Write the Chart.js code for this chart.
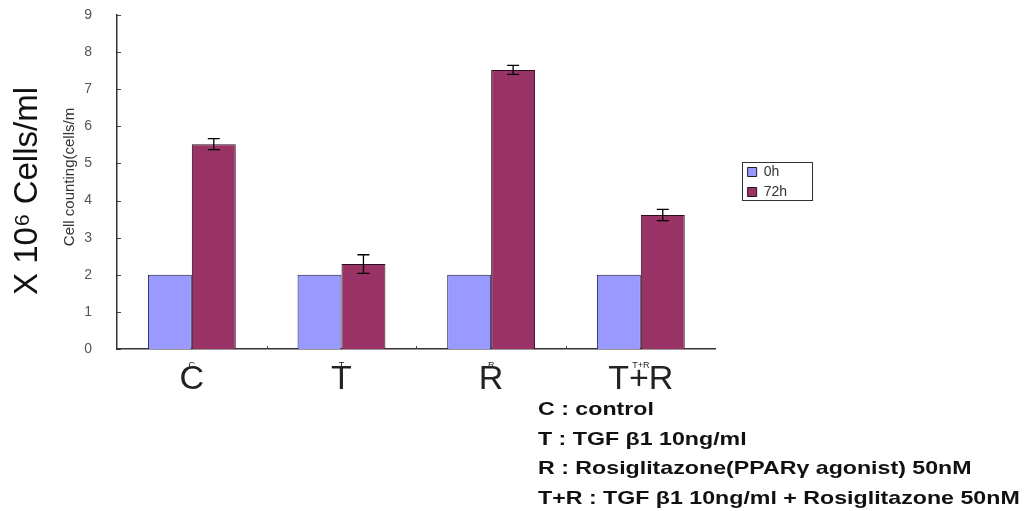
<!DOCTYPE html>
<html>
<head>
<meta charset="utf-8">
<script src="https://cdn.jsdelivr.net/npm/chart.js@4"></script>
<style>
    body { margin: 0; background: #fff; }
    #wrap { width: 1026px; height: 511px; }
</style>
</head>
<body>
<div id="wrap"><canvas id="myChart" width="1026" height="511"></canvas></div>
<script>
const categories = ['C', 'T', 'R', 'T+R'];
const serie0h = [2, 2, 2, 2];
const serie72h = [5.52, 2.29, 7.52, 3.61];
const err72h = [0.15, 0.25, 0.12, 0.15];
const yTicks = [0, 1, 2, 3, 4, 5, 6, 7, 8, 9];
const notes = [
    'C : control',
    'T : TGF β1 10ng/ml',
    'R : Rosiglitazone(PPARγ agonist) 50nM',
    'T+R : TGF β1 10ng/ml + Rosiglitazone 50nM'
];

const FONT = '"Liberation Sans", Arial, sans-serif';

// barres d'erreur, petites graduations, titres, cadre de légende, notes
const extras = {
    id: 'extras',
    afterLayout(chart) {
        // déplacer la légende comme dans l'original
        const lg = chart.legend;
        lg.left += 26; lg.right += 26;
        lg.top -= 81; lg.bottom -= 81;
    },
    afterDatasetsDraw(chart) {
        const ctx = chart.ctx;
        const x = chart.scales.x;
        const y = chart.scales.y;
        ctx.save();
        ctx.strokeStyle = '#000';
        ctx.lineWidth = 1.3;
        chart.data.datasets.forEach((ds, d) => {
            if (!ds.err) return;
            chart.getDatasetMeta(d).data.forEach((bar, i) => {
                const top = y.getPixelForValue(ds.data[i] + ds.err[i]);
                const bot = y.getPixelForValue(ds.data[i] - ds.err[i]);
                ctx.beginPath();
                ctx.moveTo(bar.x, top); ctx.lineTo(bar.x, bot);
                ctx.moveTo(bar.x - 6, top); ctx.lineTo(bar.x + 6, top);
                ctx.moveTo(bar.x - 6, bot); ctx.lineTo(bar.x + 6, bot);
                ctx.stroke();
            });
        });
        // graduations vers l'intérieur
        ctx.strokeStyle = '#444';
        ctx.lineWidth = 1;
        ctx.beginPath();
        yTicks.forEach(v => {
            const py = Math.round(y.getPixelForValue(v)) + 0.5;
            ctx.moveTo(x.left, py); ctx.lineTo(x.left + 4, py);
        });
        const w = x.width / categories.length;
        for (let i = 1; i < categories.length; i++) {
            const px = Math.round(x.left + i * w) + 0.5;
            ctx.moveTo(px, y.bottom); ctx.lineTo(px, y.bottom - 3);
        }
        ctx.stroke();
        ctx.restore();
    },
    afterDraw(chart) {
        const ctx = chart.ctx;
        const x = chart.scales.x;

        // titres de l'axe y
        ctx.save();
        ctx.textAlign = 'center';
        ctx.textBaseline = 'middle';
        ctx.translate(28, 191);
        ctx.rotate(-Math.PI / 2);
        ctx.fillStyle = '#111';
        ctx.font = '33px ' + FONT;
        ctx.fillText('X 10⁶ Cells/ml', 0, 0);
        ctx.restore();

        ctx.save();
        ctx.textAlign = 'center';
        ctx.textBaseline = 'middle';
        ctx.translate(70, 177);
        ctx.rotate(-Math.PI / 2);
        ctx.fillStyle = '#333';
        ctx.font = '15px ' + FONT;
        ctx.fillText('Cell counting(cells/m', 0, 0);
        ctx.restore();

        // petites étiquettes superposées
        ctx.save();
        ctx.fillStyle = '#222';
        ctx.font = '9px ' + FONT;
        ctx.textAlign = 'center';
        ctx.textBaseline = 'middle';
        categories.forEach((c, i) => ctx.fillText(c, x.getPixelForValue(i), 366));
        ctx.restore();

        // cadre de la légende
        const lg = chart.legend;
        if (lg && lg.legendHitBoxes.length) {
            const boxes = lg.legendHitBoxes;
            const x0 = Math.min(...boxes.map(b => b.left)) - 6;
            const y0 = Math.min(...boxes.map(b => b.top)) - 3;
            const y1 = Math.max(...boxes.map(b => b.top + b.height)) + 1;
            ctx.save();
            ctx.strokeStyle = '#333';
            ctx.lineWidth = 1;
            ctx.strokeRect(Math.round(x0) + 0.5, Math.round(y0) + 0.5, 70, Math.round(y1 - y0));
            ctx.restore();
        }

        // notes en bas
        ctx.save();
        ctx.fillStyle = '#111';
        ctx.font = 'bold 19px ' + FONT;
        ctx.textBaseline = 'middle';
        ctx.translate(538, 0);
        ctx.scale(1.22, 1);
        notes.forEach((t, i) => ctx.fillText(t, 0, 410 + i * 29.5));
        ctx.restore();
    }
};

const ctx = document.getElementById('myChart');
const myChart = new Chart(ctx, {
    type: 'bar',
    data: {
        labels: categories,
        datasets: [{
            label: '0h',
            data: serie0h,
            backgroundColor: '#9999ff',
            borderColor: '#1c1c40',
            borderWidth: 1
        }, {
            label: '72h',
            data: serie72h,
            err: err72h,
            backgroundColor: '#993366',
            borderColor: '#2a0e1c',
            borderWidth: 1
        }]
    },
    options: {
        responsive: false,
        animation: false,
        layout: { padding: { top: 15, right: 255, bottom: 0, left: 0 } },
        categoryPercentage: 0.587,
        barPercentage: 1.0,
        plugins: {
            tooltip: { enabled: false },
            legend: {
                position: 'right',
                labels: {
                    boxWidth: 9,
                    boxHeight: 9,
                    padding: 6,
                    color: '#333',
                    font: { size: 14, family: FONT }
                }
            }
        },
        scales: {
            x: {
                afterFit: (s) => { s.height = 162; },
                border: { color: '#333', width: 1.5 },
                grid: { display: false },
                ticks: {
                    padding: 2,
                    color: '#222',
                    font: { size: 34, family: FONT }
                }
            },
            y: {
                min: 0,
                max: 9,
                afterFit: (s) => { s.width = 117; s.paddingTop = 0; s.paddingBottom = 0; },
                afterBuildTicks: (s) => { s.ticks = yTicks.map(v => ({ value: v })); },
                border: { color: '#333', width: 1.5 },
                grid: { display: false },
                ticks: {
                    padding: 17,
                    color: '#555',
                    font: { size: 14, family: FONT }
                }
            }
        }
    },
    plugins: [extras]
});
</script>
</body>
</html>
